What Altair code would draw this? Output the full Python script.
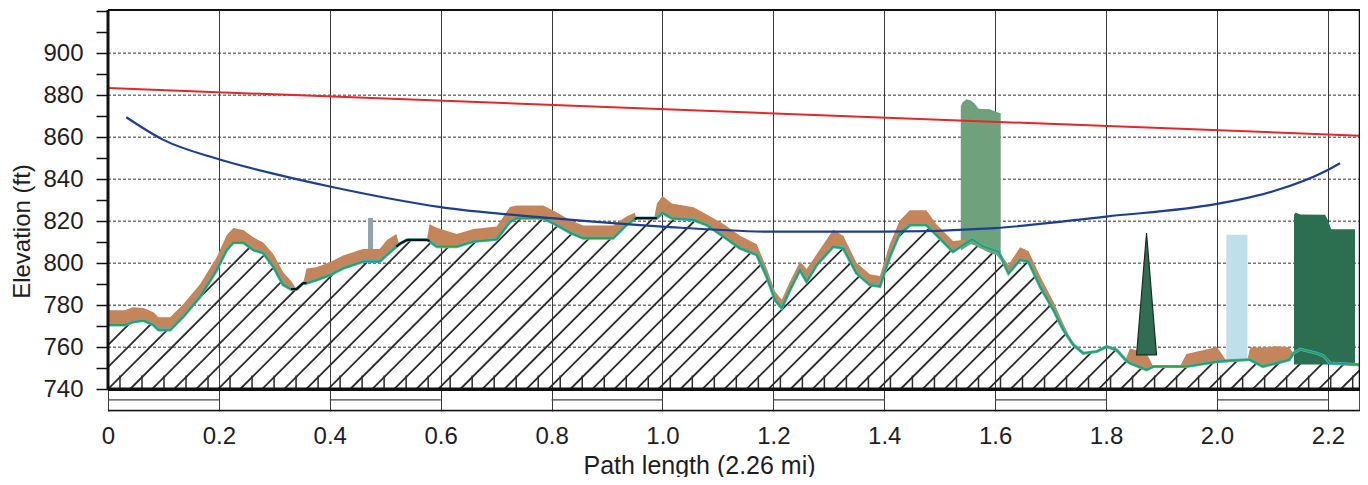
import numpy as np
import pandas as pd
import altair as alt

FONT = "Liberation Sans"
TXT = "#1e1e1e"

X_MAX = 2.258
Y_MIN, Y_MAX = 729.6, 920.55
BASE = 740

X_TICKS = [0, 0.2, 0.4, 0.6, 0.8, 1.0, 1.2, 1.4, 1.6, 1.8, 2.0, 2.2]
Y_TICKS = list(range(740, 921, 10))
H_GRID = [760, 780, 800, 820, 840, 860, 880, 900]

# terrain profile (mi, ft) and clutter height above ground (ft)
TERRAIN_X = [0.000, 0.030, 0.045, 0.064, 0.082, 0.091, 0.112, 0.136, 0.166, 0.196, 0.214, 0.226,
             0.244, 0.262, 0.280, 0.298, 0.316, 0.330, 0.340, 0.352, 0.358, 0.376, 0.400, 0.424,
             0.460, 0.490, 0.503, 0.520, 0.525, 0.539, 0.575, 0.580, 0.593, 0.629, 0.659, 0.701,
             0.725, 0.737, 0.785, 0.809, 0.833, 0.857, 0.911, 0.935, 0.950, 0.953, 0.985, 0.990,
             1.000, 1.017, 1.056, 1.080, 1.110, 1.140, 1.170, 1.188, 1.203, 1.215, 1.230, 1.248,
             1.260, 1.278, 1.308, 1.326, 1.350, 1.374, 1.392, 1.410, 1.428, 1.446, 1.476, 1.494,
             1.524, 1.558, 1.579, 1.606, 1.624, 1.645, 1.660, 1.681, 1.705, 1.723, 1.741, 1.759,
             1.783, 1.801, 1.819, 1.835, 1.843, 1.873, 1.885, 1.933, 1.945, 2.000, 2.017, 2.055,
             2.060, 2.083, 2.107, 2.130, 2.138, 2.150, 2.180, 2.192, 2.204, 2.258]
GROUND = [770.6, 770.6, 772.0, 772.7, 770.6, 768.2, 768.2, 774.6, 784.0, 796.8, 806.3, 809.8,
          809.8, 806.3, 804.8, 798.4, 789.7, 787.6, 787.6, 790.5, 790.5, 792.0, 794.4, 797.6,
          800.8, 800.8, 804.0, 807.9, 809.0, 811.1, 811.1, 810.5, 807.9, 807.9, 810.3, 811.4,
          819.8, 821.4, 821.4, 818.2, 814.6, 811.9, 811.9, 818.2, 821.0, 821.4, 821.4, 821.4,
          824.0, 821.4, 820.6, 818.2, 812.7, 807.1, 804.0, 793.6, 782.5, 778.6, 787.3, 796.8,
          791.2, 799.2, 807.9, 807.1, 795.2, 789.7, 788.9, 803.1, 814.3, 818.2, 818.2, 813.5,
          805.5, 811.4, 807.9, 805.5, 795.2, 801.6, 800.8, 788.9, 777.8, 768.2, 761.1, 757.1,
          757.9, 760.3, 758.7, 754.0, 752.4, 749.2, 750.8, 750.8, 750.8, 753.1, 753.5, 754.0,
          754.0, 750.8, 752.4, 754.0, 757.1, 759.0, 757.1, 755.9, 752.4, 751.6]
CLUTTER = [7, 7, 7, 6, 6, 6, 6, 6, 6, 6, 7, 7,
           6, 6, 5, 6, 6, 4, 0, 0, 7, 6, 6, 6,
           6, 6, 7, 6, 0, 0, 0, 8, 9, 6, 6, 6,
           7, 6, 6, 6, 6, 6, 6, 4, 3, 0, 0, 7,
           8, 7, 6, 5, 6, 6, 5, 4, 4, 4, 4, 4,
           6, 5, 8, 6, 5, 5, 5, 6, 6, 7, 7, 5,
           5, 0, 0, 0, 4, 6, 5, 5, 4, 3, 0, 0,
           0, 0, 0, 0, 7, 8, 0, 0, 6, 7, 0, 0,
           6, 9, 8, 6, 0, 0, 0, 0, 0, 0]
BLACK_RANGES = [(0.330, 0.358), (0.520, 0.580), (0.950, 0.990)]

# reference lines
LOS_X = [0.0, 2.258]
LOS_Y = [883.4, 860.7]
CURVE_X = [0.033, 0.1, 0.2, 0.3, 0.4, 0.6, 0.8, 1.0, 1.2, 1.4, 1.6, 1.8, 2.0, 2.1, 2.2, 2.222]
CURVE_Y = [869.5, 858.7, 849.5, 842.5, 836.5, 826.7, 821.4, 817.4, 815.0, 815.0, 816.7,
           822.2, 828.2, 834.1, 844.4, 847.6]

# obstacles
TALL_X = [1.538, 1.541, 1.548, 1.556, 1.563, 1.570, 1.590, 1.603, 1.610]
TALL_TOP = [874.6, 876.5, 878.0, 877.5, 876.0, 873.5, 873.3, 872.0, 871.4]
DARK_X = [2.139, 2.142, 2.150, 2.195, 2.200, 2.206, 2.249]
DARK_TOP = [823.0, 824.1, 823.2, 823.0, 820.5, 816.2, 816.2]
LIGHT_BLDG = {"x": [2.017], "x2": [2.055], "y": [754.0], "y2": [813.5]}
POLE = {"x": [0.469], "x2": [0.478], "y": [806.5], "y2": [821.5]}
TREE_X = [1.855, 1.873, 1.891]
TREE_Y = [756.3, 814.3, 756.3]

SCALE_BAR_Y = 734.9
SCALE_BOTTOM = 729.8

HATCH_SPACING = 0.0397
HATCH_OFFSET = 0.0
HATCH_SLOPE = 264.0  # ft per mi for a 45 degree pattern
GTICK_START = 0.0216
GTICK_TOP = 746.5

xscale = alt.Scale(domain=[0, X_MAX], nice=False, zero=False)
yscale = alt.Scale(domain=[Y_MIN, Y_MAX], nice=False, zero=False)

x_axis = alt.Axis(values=X_TICKS, labelExpr="datum.value == 0 ? '0' : format(datum.value, '.1f')",
                  grid=True, gridColor="#3a3a3a", gridWidth=1, domain=False, ticks=False,
                  labelPadding=13, labelFont=FONT, labelFontSize=24, labelColor=TXT,
                  labelFlush=False, labelOverlap=False,
                  title="Path length (2.26 mi)", titleFont=FONT, titleFontSize=25,
                  titleFontWeight="normal", titleColor=TXT, titleX=591, titleY=62,
                  titleAlign="center", titleBaseline="alphabetic")
y_axis = alt.Axis(values=Y_TICKS,
                  labelExpr="(datum.value % 20 == 0 && datum.value <= 900) ? datum.label : ''",
                  grid=False, domain=False, ticks=True, tickSize=12, tickColor="#111",
                  tickWidth=1.5, labelPadding=13, labelFont=FONT, labelFontSize=24,
                  labelColor=TXT, labelFlush=False, labelOverlap=False,
                  title="Elevation (ft)", titleFont=FONT, titleFontSize=24,
                  titleFontWeight="normal", titleColor=TXT, titleX=-86, titleY=221,
                  titleAngle=270, titleAlign="center", titleBaseline="middle")


def X(f):
    return alt.X(f, type="quantitative", scale=xscale, axis=x_axis)


def Y(f):
    return alt.Y(f, type="quantitative", scale=yscale, axis=y_axis)


terrain = pd.DataFrame({"x": TERRAIN_X, "g": GROUND, "c": CLUTTER})
terrain["top"] = terrain["g"] + terrain["c"]

# hatch pattern under the terrain
fx = np.arange(0, X_MAX + 1e-9, 0.0005)
fg = np.interp(fx, TERRAIN_X, GROUND)
segs = []
j = int(np.floor(-(Y_MAX - BASE) / HATCH_SLOPE / HATCH_SPACING)) - 1
while True:
    x0 = HATCH_OFFSET + j * HATCH_SPACING
    if x0 > X_MAX:
        break
    ly = BASE + HATCH_SLOPE * (fx - x0)
    m = (fx >= x0) & (ly <= fg) & (ly >= BASE)
    edges = np.flatnonzero(np.diff(np.concatenate([[0], m.astype(int), [0]])))
    for s, e in zip(edges[::2], edges[1::2]):
        if e - 1 > s:
            segs.append((fx[s], ly[s], fx[e - 1], ly[e - 1]))
    j += 1
hatch = pd.DataFrame(segs, columns=["x", "y", "x2", "y2"])

gt = np.arange(GTICK_START, X_MAX, HATCH_SPACING)
gticks = pd.DataFrame({"x": gt, "y": BASE, "y2": GTICK_TOP})

hatch_layer = alt.Chart(hatch).mark_rule(color="#2b2b2b", strokeWidth=1.8).encode(
    x=X("x"), y=Y("y"), x2="x2:Q", y2="y2:Q")

hgrid = alt.Chart(pd.DataFrame({"y": H_GRID, "x": 0.0, "x2": X_MAX})).mark_rule(
    color="#333333", strokeWidth=1, strokeDash=[3, 2]).encode(x=X("x"), x2="x2", y=Y("y"))

gtick_layer = alt.Chart(gticks).mark_rule(color="#2b2b2b", strokeWidth=1.5).encode(
    x=X("x"), y=Y("y"), y2="y2")

clutter = alt.Chart(terrain).mark_area(color="#c4855b", opacity=1).encode(
    x=X("x"), y=Y("g"), y2="top")

ground_cyan = alt.Chart(terrain).mark_line(color="#3db4cc", strokeWidth=3.2).encode(
    x=X("x"), y=Y("g"))
ground_green = alt.Chart(terrain).mark_line(color="#2f9e46", strokeWidth=1.6).encode(
    x=X("x"), y=Y("g"))

black_rows = []
for k, (a, b) in enumerate(BLACK_RANGES):
    for v in np.linspace(a, b, 12):
        black_rows.append({"x": v, "g": float(np.interp(v, TERRAIN_X, GROUND)), "seg": k})
ground_black = alt.Chart(pd.DataFrame(black_rows)).mark_line(color="#111111", strokeWidth=2.2).encode(
    x=X("x"), y=Y("g"), detail="seg:N")

tall = pd.DataFrame({"x": TALL_X, "top": TALL_TOP})
tall["base"] = np.interp(tall["x"], TERRAIN_X, GROUND) - 2
tall_layer = alt.Chart(tall).mark_area(color="#6fa27c").encode(x=X("x"), y=Y("top"), y2="base")

dark = pd.DataFrame({"x": DARK_X, "top": DARK_TOP})
dark["base"] = float(np.min(np.interp(DARK_X, TERRAIN_X, GROUND)))
dark_layer = alt.Chart(dark).mark_area(color="#2b6e50").encode(x=X("x"), y=Y("top"), y2="base")

light_layer = alt.Chart(pd.DataFrame(LIGHT_BLDG)).mark_rect(color="#bfe0ea").encode(
    x=X("x"), x2="x2", y=Y("y"), y2="y2")
pole_layer = alt.Chart(pd.DataFrame(POLE)).mark_rect(color="#8fa3a8").encode(
    x=X("x"), x2="x2", y=Y("y"), y2="y2")

tree = pd.DataFrame({"x": TREE_X, "y": TREE_Y, "b": min(TREE_Y)})
tree_layer = alt.Chart(tree).mark_area(color="#2f6e55", stroke="#1d2d25", strokeWidth=1.2,
                                       interpolate="linear").encode(x=X("x"), y=Y("y"), y2="b")

los = alt.Chart(pd.DataFrame({"x": LOS_X, "y": LOS_Y})).mark_line(
    color="#e5262b", strokeWidth=2).encode(x=X("x"), y=Y("y"))
curve = alt.Chart(pd.DataFrame({"x": CURVE_X, "y": CURVE_Y})).mark_line(
    color="#1d3f92", strokeWidth=2.2, interpolate="monotone").encode(x=X("x"), y=Y("y"))

frame = pd.DataFrame([
    {"x": 0.0, "x2": 0.0, "y": BASE, "y2": Y_MAX, "w": 3.0},
    {"x": 0.0, "x2": X_MAX, "y": Y_MAX, "y2": Y_MAX, "w": 2.0},
    {"x": X_MAX, "x2": X_MAX, "y": BASE, "y2": Y_MAX, "w": 2.5},
    {"x": 0.0, "x2": X_MAX, "y": BASE, "y2": BASE, "w": 3.5},
    {"x": 0.0, "x2": X_MAX, "y": SCALE_BOTTOM, "y2": SCALE_BOTTOM, "w": 1.5},
    {"x": X_MAX, "x2": X_MAX, "y": SCALE_BOTTOM, "y2": BASE, "w": 1.5},
])
frame_layer = alt.Chart(frame).mark_rule(color="#111111").encode(
    x=X("x"), x2="x2", y=Y("y"), y2="y2",
    strokeWidth=alt.StrokeWidth("w:Q", scale=None, legend=None))

sb = pd.DataFrame({"x": X_TICKS[0::2], "x2": [v + 0.2 for v in X_TICKS[0::2]], "y": SCALE_BAR_Y})
sb_layer = alt.Chart(sb).mark_rule(color="#444444", strokeWidth=1.3).encode(
    x=X("x"), x2="x2", y=Y("y"))

chart = alt.layer(
    hatch_layer, hgrid, gtick_layer, pole_layer, tall_layer, light_layer, dark_layer,
    clutter, ground_cyan, ground_green, ground_black, tree_layer, los, curve,
    sb_layer, frame_layer,
).properties(
    width=1252, height=401,
    autosize=alt.AutoSizeParams(type="none"),
    padding={"left": 100, "top": 2, "right": 0, "bottom": 66},
).configure_view(stroke=None).configure(background="white")

chart.save("out.html", embed_options={"renderer": "svg", "actions": False})
